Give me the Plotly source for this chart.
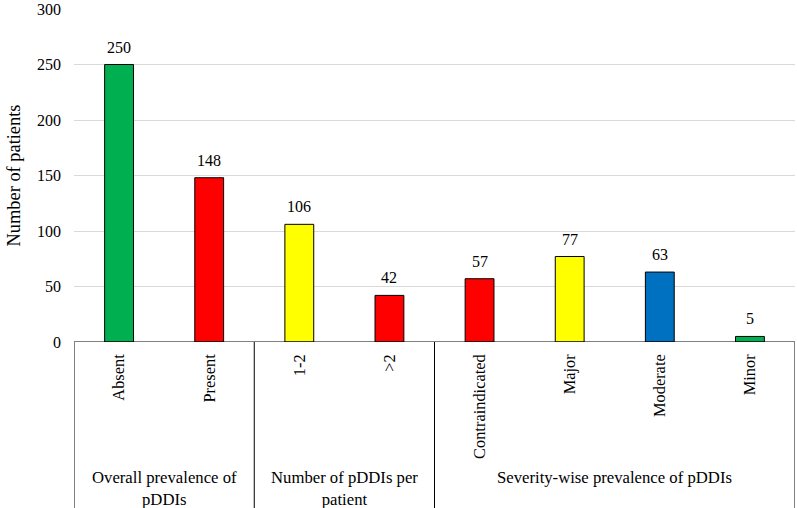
import plotly.graph_objects as go

categories = ["Absent", "Present", "1-2", ">2", "Contraindicated", "Major", "Moderate", "Minor"]
values = [250, 148, 106, 42, 57, 77, 63, 5]
colors = ["#00B050", "#FF0000", "#FFFF00", "#FF0000", "#FF0000", "#FFFF00", "#0070C0", "#00B050"]
groups = ["Overall prevalence of<br>pDDIs", "Number of pDDIs per<br>patient", "Severity-wise prevalence of pDDIs"]
group_members = [[0, 1], [2, 3], [4, 5, 6, 7]]
y_ticks = [0, 50, 100, 150, 200, 250, 300]

FONT = "Liberation Serif"
xpos = list(range(len(categories)))

fig = go.Figure()
fig.add_trace(go.Bar(
    x=xpos, y=values, width=0.32,
    marker=dict(color=colors, line=dict(color="black", width=1)),
    hoverinfo="skip",
))

annotations = []
for x, v in zip(xpos, values):
    annotations.append(dict(x=x, y=v, xref="x", yref="y", text=str(v), showarrow=False,
                            yanchor="bottom", yshift=7, font=dict(size=16, color="black", family=FONT)))
for g, members in zip(groups, group_members):
    cx = (members[0] + members[-1]) / 2
    annotations.append(dict(x=cx, y=-0.373, xref="x", yref="paper", text=g, showarrow=False,
                            yanchor="top", xanchor="center",
                            font=dict(size=16.7, color="black", family=FONT)))

shapes = []
boundaries = [members[0] - 0.5 for members in group_members] + [group_members[-1][-1] + 0.5]
for b in boundaries:
    shapes.append(dict(type="line", xref="x", yref="paper", x0=b, x1=b, y0=0, y1=-0.55,
                       line=dict(color="black", width=1)))
shapes.append(dict(type="line", xref="paper", yref="y", x0=0, x1=1, y0=0, y1=0,
                   line=dict(color="black", width=1)))

fig.update_layout(
    width=797, height=508,
    margin=dict(l=74, r=2, t=9, b=166),
    paper_bgcolor="white", plot_bgcolor="white",
    showlegend=False,
    font=dict(family=FONT, size=16, color="black"),
    xaxis=dict(range=[-0.5, len(categories) - 0.5], tickvals=xpos, ticktext=categories,
               tickangle=-90, showgrid=False, zeroline=False, showline=False,
               tickfont=dict(size=16.4, family=FONT, color="black"), ticks="",
               ticklabelstandoff=8, fixedrange=True),
    yaxis=dict(range=[0, 300], tickvals=y_ticks, showgrid=True, gridcolor="#D9D9D9", gridwidth=1,
               zeroline=False, showline=False, ticks="",
               tickfont=dict(size=16, family=FONT, color="black"), ticklabelstandoff=12,
               title=dict(text="Number of patients", font=dict(size=18.4, family=FONT, color="black"), standoff=11)),
    annotations=annotations,
    shapes=shapes,
)

fig.write_html("out.html", config={"displayModeBar": False},
               post_script="document.body.style.margin='0';")
